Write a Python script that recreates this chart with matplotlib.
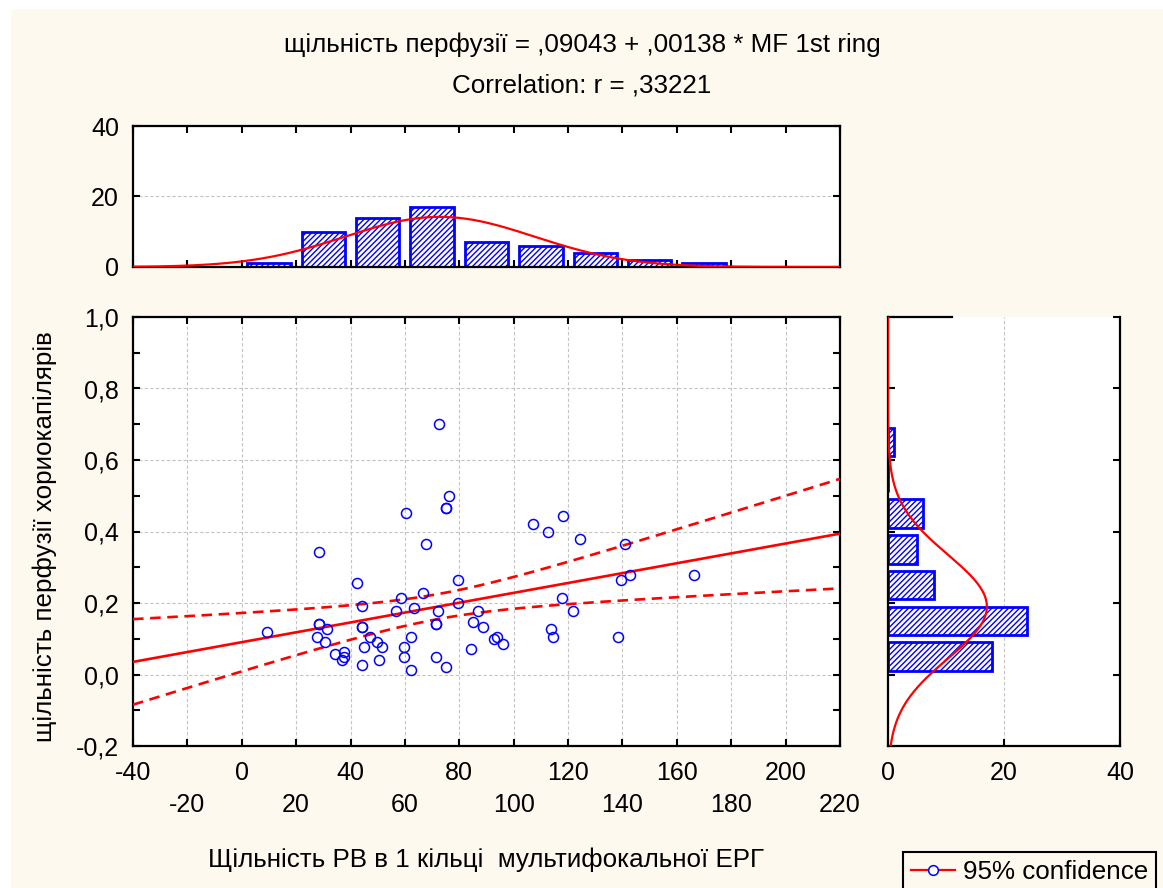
import numpy as np
import matplotlib.pyplot as plt
from matplotlib.lines import Line2D
from matplotlib.patches import Rectangle

plt.rcParams['font.family'] = ['Liberation Sans', 'DejaVu Sans']
plt.rcParams['hatch.linewidth'] = 1.0

# -------------------------------
# Data
# -------------------------------
mf_ring = [28.4, 42.2, 44.1, 58.6, 56.6, 9.4, 28.4, 31.4, 27.6, 30.5,
           44.1, 47.3, 49.6, 51.5, 45.0, 34.2, 37.6, 37.6, 37.0, 44.1,
           50.5, 59.6, 59.6, 62.4, 62.4, 60.3, 72.4, 76.1, 75.0, 67.7,
           63.3, 66.8, 79.7, 79.7, 72.3, 71.5, 85.2, 86.9, 88.8, 71.5,
           75.1, 84.2, 92.7, 93.7, 96.1, 113.6, 114.5, 117.9, 121.7, 107.1,
           112.5, 118.0, 124.4, 141.0, 138.3, 139.6, 142.8, 166.3,
           28.4, 44.1, 71.5, 75.0]  # last four hidden under other points
perfusion = [0.342, 0.257, 0.192, 0.214, 0.178, 0.120, 0.142, 0.127, 0.106, 0.092,
             0.133, 0.104, 0.091, 0.077, 0.077, 0.056, 0.064, 0.049, 0.041, 0.027,
             0.041, 0.077, 0.049, 0.013, 0.106, 0.451, 0.701, 0.500, 0.465, 0.364,
             0.185, 0.227, 0.263, 0.199, 0.177, 0.141, 0.148, 0.178, 0.134, 0.049,
             0.020, 0.070, 0.099, 0.106, 0.084, 0.127, 0.106, 0.213, 0.178, 0.421,
             0.400, 0.443, 0.379, 0.364, 0.106, 0.263, 0.278, 0.278,
             0.142, 0.133, 0.141, 0.465]

# histogram counts
x_bin_left = [0, 20, 40, 60, 80, 100, 120, 140, 160]
x_counts = [1, 10, 14, 17, 7, 6, 4, 2, 1]
y_bin_low = [0.0, 0.1, 0.2, 0.3, 0.4, 0.5, 0.6]
y_counts = [18, 24, 8, 5, 6, 0, 1]

b0, b1 = 0.09043, 0.00138
r_text = ',33221'

bg = '#fef9ee'
blue = '#0000ff'
grid_kw = dict(color='#c4c4c4', linestyle=(0, (3, 2)), linewidth=0.8)

x = np.array(mf_ring)
y = np.array(perfusion)
n = len(x)

# confidence band around the regression line
xs = np.linspace(-40, 220, 300)
fit = b0 + b1 * xs
resid = y - (b0 + b1 * x)
s = np.sqrt(np.sum(resid ** 2) / (n - 2))
sxx = np.sum((x - x.mean()) ** 2)
half = 2.0 * s * np.sqrt(1.0 / n + (xs - x.mean()) ** 2 / sxx)

# -------------------------------
# Figure
# -------------------------------
fig = plt.figure(figsize=(11.63, 8.88), dpi=100, facecolor=bg)
fig.patches.append(Rectangle((0, 1 - 8 / 888), 1, 8 / 888, transform=fig.transFigure,
                             color='white', zorder=-1))
fig.patches.append(Rectangle((0, 0), 10 / 1163, 1, transform=fig.transFigure,
                             color='white', zorder=-1))

W, H = 1163, 888
ax = fig.add_axes([133 / W, 1 - 746 / H, 707 / W, 429 / H])
ax_top = fig.add_axes([133 / W, 1 - 267 / H, 707 / W, 141 / H])
ax_r = fig.add_axes([888 / W, 1 - 746 / H, 232 / W, 429 / H])

fs = 18.7   # titles / axis labels
tfs = 18    # tick labels

# main scatter
ax.plot(xs, fit, color='red', lw=1.9, zorder=3)
ax.plot(xs, fit + half, color='red', lw=1.9, ls=(0, (4, 2.5)), zorder=3)
ax.plot(xs, fit - half, color='red', lw=1.9, ls=(0, (4, 2.5)), zorder=3)
ax.plot(x, y, 'o', ms=7.2, mfc='none', mec=blue, mew=1.1, zorder=4)

ax.set_xlim(-40, 220)
ax.set_ylim(-0.2, 1.0)
maj_x = np.arange(-40, 201, 40)
min_x = np.arange(-20, 221, 40)
ax.set_xticks(maj_x)
ax.set_xticks(min_x, minor=True)
ax.set_xticklabels([str(v) for v in maj_x], fontsize=tfs)
ax.set_xticklabels([str(v) for v in min_x], minor=True, fontsize=tfs)
maj_y = np.round(np.arange(-0.2, 1.01, 0.2), 1)
ax.set_yticks(maj_y)
ax.set_yticklabels([f'{v:.1f}'.replace('.', ',') for v in maj_y], fontsize=tfs)
ax.set_yticks(np.round(np.arange(-0.1, 1.0, 0.2), 1), minor=True)
ax.tick_params(axis='x', which='major', direction='in', top=True, length=5, width=1.5, pad=10.5)
ax.tick_params(axis='x', which='minor', direction='in', top=True, length=5, width=1.5, pad=34)
ax.tick_params(axis='y', which='both', direction='in', right=True, length=5, width=1.5, pad=10)
ax.grid(True, which='both', axis='x', **grid_kw)
ax.grid(True, which='major', axis='y', **grid_kw)
ax.set_axisbelow(True)
for sp in ax.spines.values():
    sp.set_linewidth(1.6)

# top histogram of x
ax_top.bar(np.array(x_bin_left) + 10, x_counts, width=16, facecolor='white',
           edgecolor=blue, linewidth=2, hatch='//////', zorder=2)
gx = np.linspace(-40, 220, 300)
gy = n * 20 / (x.std(ddof=1) * np.sqrt(2 * np.pi)) * np.exp(-0.5 * ((gx - x.mean()) / x.std(ddof=1)) ** 2)
ax_top.plot(gx, gy, color='red', lw=1.6, zorder=3)
ax_top.set_xlim(-40, 220)
ax_top.set_ylim(0, 40)
ax_top.set_xticks(np.arange(-40, 221, 20))
ax_top.set_xticklabels([])
ax_top.set_yticks([0, 20, 40])
ax_top.set_yticklabels(['0', '20', '40'], fontsize=tfs)
ax_top.tick_params(axis='x', direction='in', top=True, length=5, width=1.5)
ax_top.tick_params(axis='y', direction='in', right=True, length=5, width=1.5, pad=10)
ax_top.yaxis.grid(True, **grid_kw)
ax_top.set_axisbelow(True)
for sp in ax_top.spines.values():
    sp.set_linewidth(1.6)

# right histogram of y
ax_r.barh(np.array(y_bin_low) + 0.05, y_counts, height=0.08, facecolor='white',
          edgecolor=blue, linewidth=2, hatch='//////', zorder=2)
hy = np.linspace(-0.2, 1.0, 300)
hx = n * 0.1 / (y.std(ddof=1) * np.sqrt(2 * np.pi)) * np.exp(-0.5 * ((hy - y.mean()) / y.std(ddof=1)) ** 2)
ax_r.plot(hx, hy, color='red', lw=1.6, zorder=3)
ax_r.set_xlim(0, 40)
ax_r.set_ylim(-0.2, 1.0)
ax_r.set_xticks([0, 20, 40])
ax_r.set_xticklabels(['0', '20', '40'], fontsize=tfs)
ax_r.set_yticks(maj_y)
ax_r.set_yticklabels([])
ax_r.tick_params(axis='x', direction='in', length=5, width=1.5, pad=10.5)
ax_r.tick_params(axis='y', direction='in', right=True, length=5, width=1.5)
ax_r.xaxis.grid(True, **grid_kw)
ax_r.set_axisbelow(True)
for sp in ax_r.spines.values():
    sp.set_linewidth(1.6)
ax_r.spines['top'].set_bounds(0, 11)

# titles and axis labels
fig.text(582 / W, 1 - 45 / H, 'щільність перфузії = ,09043 + ,00138 * MF 1st ring',
         ha='center', va='center', fontsize=fs)
fig.text(582 / W, 1 - 86 / H, 'Correlation: r = ' + r_text,
         ha='center', va='center', fontsize=fs)
fig.text(486.5 / W, 1 - 860 / H, 'Щільність РВ в 1 кільці  мультифокальної ЕРГ',
         ha='center', va='center', fontsize=fs)
fig.text(45 / W, 1 - 537 / H, 'щільність перфузії хориокапілярів', rotation=90,
         ha='center', va='center', fontsize=fs)

handle = Line2D([0], [0], color='red', lw=1.6, marker='o', ms=7, mfc='white', mec=blue, mew=1.1)
leg = fig.legend([handle], ['95% confidence'], loc='upper left',
                 bbox_to_anchor=(903 / W, 1 - 852 / H), fontsize=fs, frameon=True,
                 fancybox=False, edgecolor='black', facecolor=bg, framealpha=1,
                 borderaxespad=0, handlelength=1.7, handletextpad=0.3, borderpad=0.3)
leg.get_frame().set_linewidth(1.5)

plt.savefig('out.png', dpi=100, facecolor=bg)
